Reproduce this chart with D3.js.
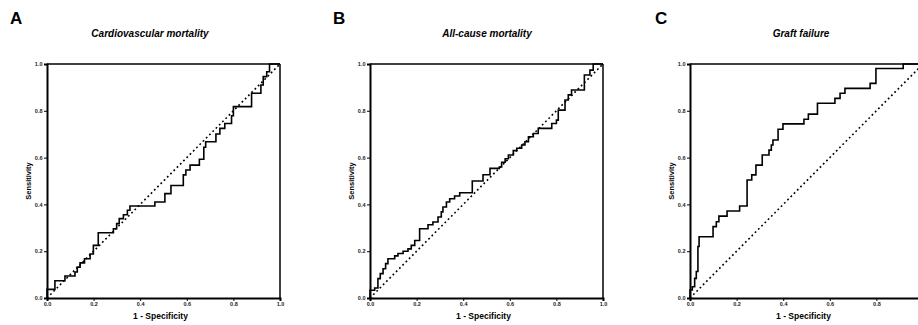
<!DOCTYPE html>
<html><head><meta charset="utf-8">
<script src="https://cdn.jsdelivr.net/npm/d3@7/dist/d3.min.js"></script>
<style>
html,body{margin:0;padding:0;background:#fff;}
svg{display:block;}
text{font-family:"Liberation Sans",Arial,sans-serif;}
</style></head>
<body>
<svg id="chart" width="918" height="325"></svg>
<script>
const panelLetters = ["A", "B", "C"];
const panelTitles = ["Cardiovascular mortality", "All-cause mortality", "Graft failure"];
const tickValues = [0, 0.2, 0.4, 0.6, 0.8, 1.0];
const tickLabels = ["0.0", "0.2", "0.4", "0.6", "0.8", "1.0"];
const xAxisTitle = "1 - Specificity";
const yAxisTitle = "Sensitivity";

// Panel A: Cardiovascular mortality
const aFpr = [0, 0, 0.034, 0.077, 0.12, 0.13, 0.142, 0.161, 0.185, 0.199, 0.22, 0.285, 0.299, 0.31, 0.328, 0.345, 0.356, 0.463, 0.506, 0.532, 0.585, 0.596, 0.614, 0.654, 0.673, 0.681, 0.725, 0.742, 0.763, 0.792, 0.80, 0.878, 0.918, 0.928, 0.943, 0.955, 1.0];
const aTpr = [0, 0.037, 0.074, 0.094, 0.111, 0.132, 0.15, 0.168, 0.188, 0.225, 0.279, 0.296, 0.318, 0.339, 0.356, 0.375, 0.393, 0.41, 0.446, 0.481, 0.526, 0.547, 0.568, 0.593, 0.644, 0.668, 0.701, 0.725, 0.746, 0.779, 0.818, 0.875, 0.91, 0.946, 0.967, 1.0, 1.0];

// Panel B: All-cause mortality
const bFpr = [0, 0, 0.02, 0.034, 0.044, 0.056, 0.067, 0.077, 0.106, 0.12, 0.142, 0.163, 0.177, 0.192, 0.213, 0.249, 0.27, 0.292, 0.306, 0.313, 0.328, 0.342, 0.363, 0.385, 0.439, 0.485, 0.515, 0.555, 0.565, 0.58, 0.594, 0.615, 0.63, 0.651, 0.665, 0.68, 0.701, 0.722, 0.78, 0.80, 0.808, 0.837, 0.851, 0.865, 0.92, 0.944, 0.958, 1.0];
const bTpr = [0, 0.033, 0.043, 0.083, 0.104, 0.125, 0.147, 0.168, 0.18, 0.19, 0.2, 0.21, 0.225, 0.246, 0.296, 0.313, 0.325, 0.346, 0.368, 0.389, 0.41, 0.424, 0.436, 0.45, 0.5, 0.527, 0.554, 0.56, 0.58, 0.595, 0.611, 0.63, 0.64, 0.654, 0.668, 0.689, 0.703, 0.725, 0.746, 0.76, 0.803, 0.846, 0.868, 0.889, 0.953, 0.974, 1.0, 1.0];

// Panel C: Graft failure
const cFpr = [0, 0, 0.01, 0.02, 0.027, 0.034, 0.039, 0.099, 0.113, 0.124, 0.159, 0.213, 0.245, 0.265, 0.283, 0.31, 0.339, 0.349, 0.356, 0.378, 0.399, 0.489, 0.508, 0.547, 0.622, 0.644, 0.665, 0.773, 0.798, 0.915, 1.0];
const cTpr = [0, 0.034, 0.048, 0.084, 0.113, 0.22, 0.262, 0.305, 0.326, 0.35, 0.372, 0.393, 0.504, 0.526, 0.568, 0.611, 0.632, 0.654, 0.675, 0.721, 0.744, 0.764, 0.786, 0.832, 0.853, 0.875, 0.896, 0.917, 0.981, 1.0, 1.0];

const series = [
  {fpr: aFpr, tpr: aTpr},
  {fpr: bFpr, tpr: bTpr},
  {fpr: cFpr, tpr: cTpr}
];

// layout
const W = 918;
const plotLefts = [47, 370, 690];
const letterX = [10, 333, 655];
const titleCenters = [150, 487, 801];
const plotTop = 64, plotW = 233, plotH = 234;

const svg = d3.select("#chart");

series.forEach((s, i) => {
  const g = svg.append("g").attr("transform", `translate(${plotLefts[i]},${plotTop})`);
  const x = d3.scaleLinear().domain([0, 1]).range([0, plotW]);
  const y = d3.scaleLinear().domain([0, 1]).range([plotH, 0]);

  // panel letter and title
  svg.append("text").attr("x", letterX[i]).attr("y", 24)
    .attr("font-size", 17).attr("font-weight", "bold").text(panelLetters[i]);
  svg.append("text").attr("x", titleCenters[i]).attr("y", 37)
    .attr("text-anchor", "middle").attr("font-size", 10)
    .attr("font-weight", "bold").attr("font-style", "italic").text(panelTitles[i]);

  // frame top and right
  g.append("line").attr("x1", 0).attr("x2", plotW).attr("y1", 0).attr("y2", 0)
    .attr("stroke", "#000").attr("stroke-width", 1.5);
  g.append("line").attr("x1", plotW).attr("x2", plotW).attr("y1", 0).attr("y2", plotH)
    .attr("stroke", "#000").attr("stroke-width", 1.5);

  // axes
  const xAxis = d3.axisBottom(x).tickValues(tickValues).tickFormat((d, k) => tickLabels[k]).tickSize(3).tickPadding(1.5);
  const yAxis = d3.axisLeft(y).tickValues(tickValues).tickFormat((d, k) => tickLabels[k]).tickSize(3).tickPadding(1.5);
  const gx = g.append("g").attr("transform", `translate(0,${plotH})`).call(xAxis);
  const gy = g.append("g").call(yAxis);
  [gx, gy].forEach(ax => {
    ax.select(".domain").attr("stroke", "#000").attr("stroke-width", 2);
    ax.selectAll(".tick line").attr("stroke", "#000").attr("stroke-width", 1);
    ax.selectAll(".tick text").attr("font-size", 5.5).attr("font-weight", "bold")
      .attr("fill", "#222").attr("font-family", "Liberation Sans, Arial, sans-serif");
  });
  // labels that fall beyond the picture's right edge are not shown (as in the reference)
  gx.selectAll(".tick").filter(d => plotLefts[i] + x(d) + 4 > W).select("text").remove();

  // axis titles
  g.append("text").attr("x", plotW / 2 - 3).attr("y", plotH + 21)
    .attr("text-anchor", "middle").attr("font-size", 8.5).attr("font-weight", "bold").text(xAxisTitle);
  g.append("text").attr("transform", `translate(-16,${plotH / 2}) rotate(-90)`)
    .attr("text-anchor", "middle").attr("font-size", 7.5).attr("font-weight", "bold").text(yAxisTitle);

  // reference diagonal
  g.append("line").attr("x1", x(0)).attr("y1", y(0)).attr("x2", x(1)).attr("y2", y(1))
    .attr("stroke", "#000").attr("stroke-width", 1.6).attr("stroke-dasharray", "1.8,2.8");

  // ROC curve
  const pts = s.fpr.map((f, k) => [f, s.tpr[k]]);
  const line = d3.line().x(d => x(d[0])).y(d => y(d[1])).curve(d3.curveStepAfter);
  g.append("path").attr("d", line(pts)).attr("fill", "none")
    .attr("stroke", "#000").attr("stroke-width", 1.6).attr("stroke-linejoin", "miter");
});
</script>
</body></html>
